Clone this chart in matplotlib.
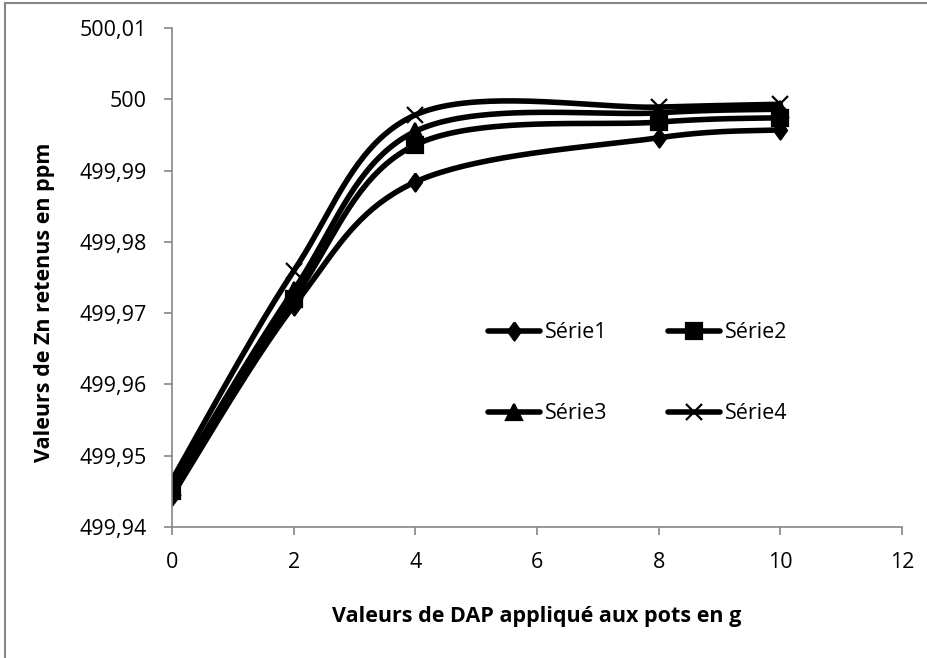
import numpy as np
import matplotlib.pyplot as plt
from matplotlib.lines import Line2D
from matplotlib.ticker import FuncFormatter

plt.rcParams['font.family'] = ['Open Sans', 'DejaVu Sans']

# doses de DAP (g)
dap = [0, 2, 4, 8, 10]
# Zn retenu (ppm)
serie1 = [499.9444, 499.9710, 499.9884, 499.9946, 499.9957]
serie2 = [499.9450, 499.9720, 499.9936, 499.9968, 499.9974]
serie3 = [499.9456, 499.9732, 499.9955, 499.9981, 499.9986]
serie4 = [499.9466, 499.9759, 499.9978, 499.9989, 499.9993]
noms = ['Série1', 'Série2', 'Série3', 'Série4']

yticks = [499.94, 499.95, 499.96, 499.97, 499.98, 499.99, 500.00, 500.01]
xticks = [0, 2, 4, 6, 8, 10, 12]

diamant = [(0, 1), (0.72, 0), (0, -1), (-0.72, 0), (0, 1)]
marqueurs = [diamant, 's', '^', 'x']
tailles = [13, 12, 12, 12]


def lissage(x, y, n=40):
    # courbe lissée façon Excel (bezier avec tangentes de Catmull-Rom)
    x = np.asarray(x, float)
    y = np.asarray(y, float)
    px, py = [], []
    k = len(x)
    for i in range(k - 1):
        a = max(i - 1, 0)
        b = min(i + 2, k - 1)
        c1x = x[i] + (x[i + 1] - x[a]) / 6
        c1y = y[i] + (y[i + 1] - y[a]) / 6
        c2x = x[i + 1] - (x[b] - x[i]) / 6
        c2y = y[i + 1] - (y[b] - y[i]) / 6
        t = np.linspace(0, 1, n, endpoint=False)
        px.extend((1 - t) ** 3 * x[i] + 3 * (1 - t) ** 2 * t * c1x + 3 * (1 - t) * t ** 2 * c2x + t ** 3 * x[i + 1])
        py.extend((1 - t) ** 3 * y[i] + 3 * (1 - t) ** 2 * t * c1y + 3 * (1 - t) * t ** 2 * c2y + t ** 3 * y[i + 1])
    px.append(x[-1])
    py.append(y[-1])
    idx = list(range(0, len(px), n))
    return px, py, idx


fig = plt.figure(figsize=(9.27, 6.58), dpi=100)
ax = fig.add_axes([0.1855, 0.199, 0.7875, 0.7585])

lignes = []
for s, nom, m, ms in zip([serie1, serie2, serie3, serie4], noms, marqueurs, tailles):
    px, py, idx = lissage(dap, s)
    l, = ax.plot(px, py, color='black', lw=4, marker=m, ms=ms, markevery=idx,
                 mew=1.6, mec='black', mfc='black', label=nom, solid_capstyle='round')
    lignes.append(l)

ax.set_xlim(0, 12)
ax.set_ylim(499.94, 500.01)
ax.set_xticks(xticks)
ax.set_yticks(yticks)
ax.yaxis.set_major_formatter(FuncFormatter(
    lambda v, p: ('%.2f' % v).rstrip('0').rstrip('.').replace('.', ',')))

for side in ['top', 'right']:
    ax.spines[side].set_visible(False)
for side in ['left', 'bottom']:
    ax.spines[side].set_color('#868686')
    ax.spines[side].set_linewidth(1.2)
ax.tick_params(direction='out', length=6, width=1.2, color='#868686',
               labelsize=15.5, pad=12)

ax.set_xlabel('Valeurs de DAP appliqué aux pots en g', fontsize=15.5, fontweight='bold')
ax.xaxis.set_label_coords(0.5, -0.158)
ax.set_ylabel('Valeurs de Zn retenus en ppm', fontsize=15.5, fontweight='bold')
ax.yaxis.set_label_coords(-0.16, 0.45)

# ordre ligne par ligne : Série1 Série2 / Série3 Série4
ordre = [0, 2, 1, 3]
ax.legend([lignes[i] for i in ordre], [noms[i] for i in ordre],
          loc='center', bbox_to_anchor=(0.638, 0.308), ncol=2, frameon=False,
          fontsize=15.5, handlelength=2.4, handletextpad=0.25, columnspacing=2.8,
          labelspacing=2.8, numpoints=1)

# cadre du graphique (gauche et haut seulement)
fig.add_artist(Line2D([5 / 927, 5 / 927], [0, 1 - 3 / 658], color='#868686', lw=1.5))
fig.add_artist(Line2D([5 / 927, 1], [1 - 3 / 658, 1 - 3 / 658], color='#868686', lw=1.5))

plt.savefig('out.png', dpi=100)
